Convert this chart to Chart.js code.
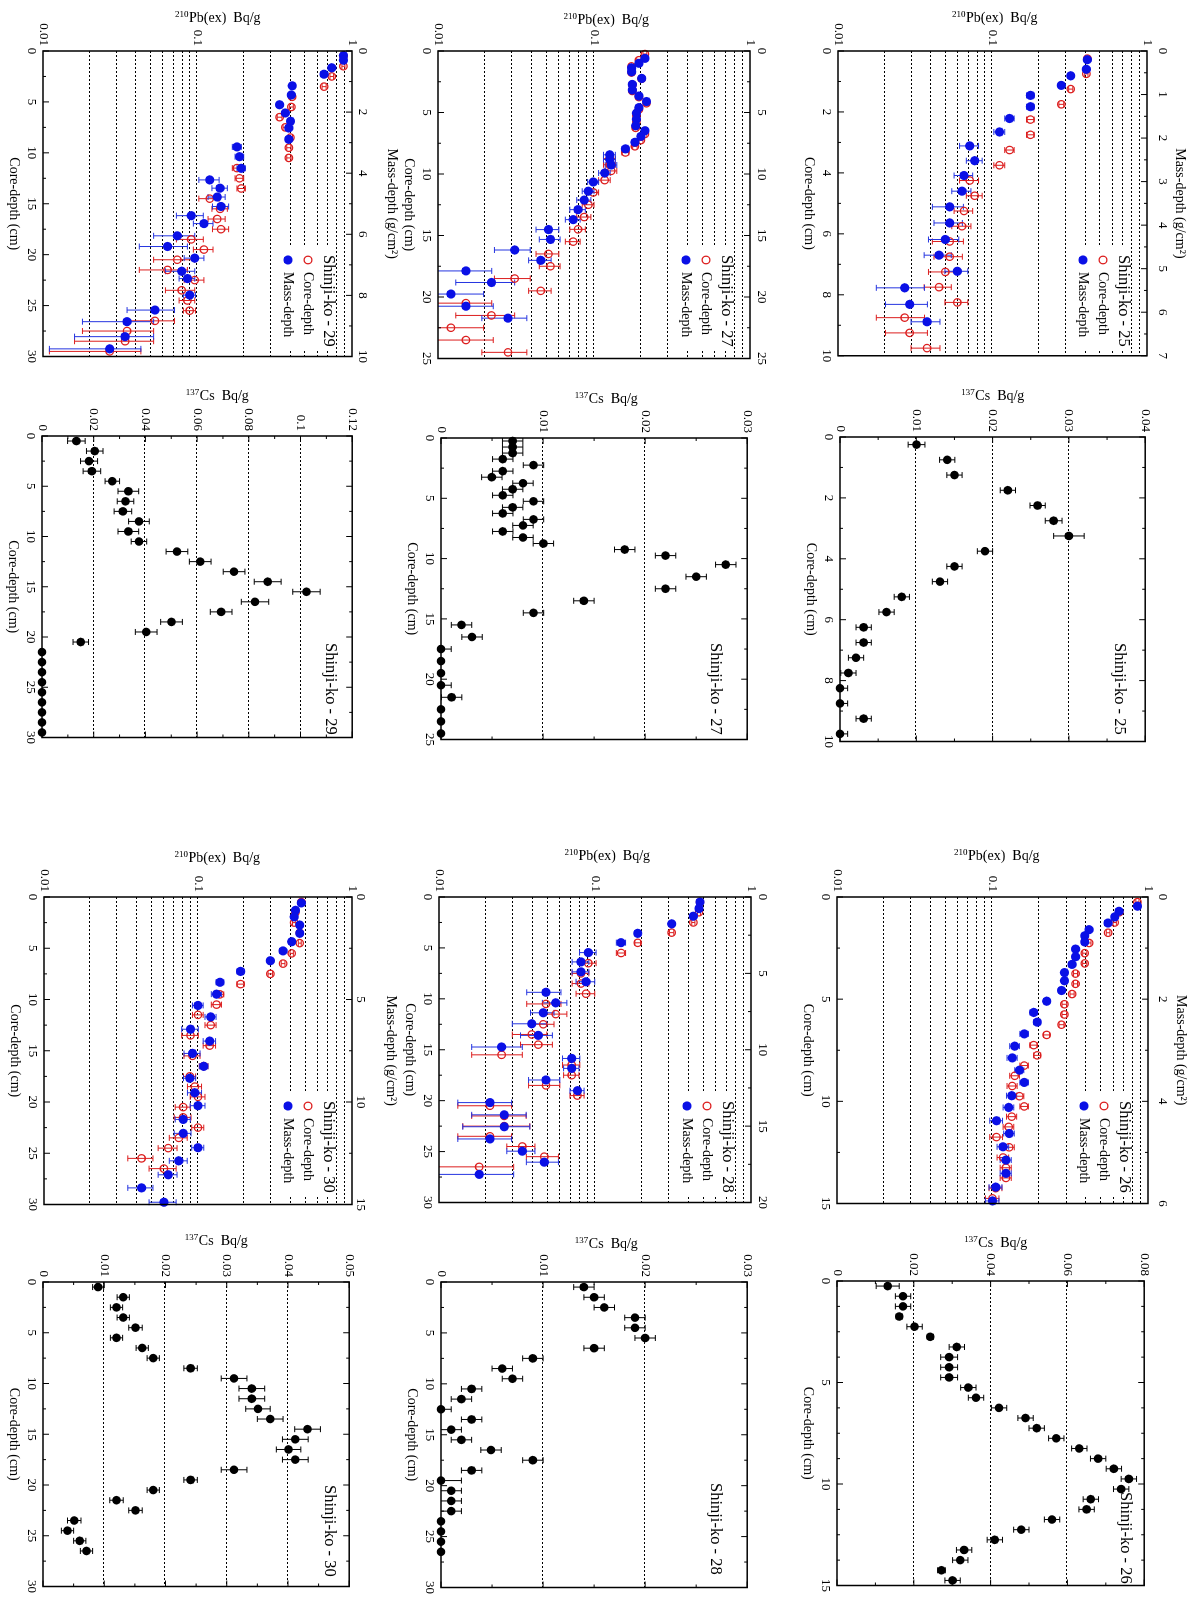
<!DOCTYPE html>
<html>
<head>
<meta charset="utf-8">
<title>Shinji-ko cores: 210Pb(ex) and 137Cs profiles</title>
<script src="https://cdn.jsdelivr.net/npm/chart.js@4.4.1/dist/chart.umd.min.js"></script>
<style>
  html, body { margin: 0; padding: 0; background: #fff; }
  body { width: 1198px; height: 1600px; position: relative; overflow: hidden; }
  .panel { position: absolute; transform-origin: 0 0; }
  .panel canvas { display: block; }
</style>
</head>
<body>
<script>
// ---------------- data ----------------
// 210Pb(ex) log axis
const pbGridTicks = [0.01, 0.02, 0.03, 0.04, 0.05, 0.06, 0.07, 0.08, 0.09, 0.1, 0.2, 0.3, 0.4, 0.5, 0.6, 0.7, 0.8, 0.9, 1];
const pbLabelTicks = [0.01, 0.1, 1];

// Shinji-ko 29
const pb29Core = [0.5, 1.5, 2.5, 3.5, 4.5, 5.5, 6.5, 7.5, 8.5, 9.5, 10.5, 11.5, 12.5, 13.5, 14.5, 15.5, 16.5, 17.5, 18.5, 19.5, 20.5, 21.5, 22.5, 23.5, 24.5, 25.5, 26.5, 27.5, 28.5, 29.5];
const pb29Mass = [0.15, 0.30, 0.55, 0.76, 1.14, 1.44, 1.76, 2.03, 2.30, 2.52, 2.89, 3.14, 3.46, 3.84, 4.22, 4.49, 4.78, 5.09, 5.39, 5.65, 6.05, 6.40, 6.78, 7.21, 7.45, 7.99, 8.48, 8.86, 9.35, 9.75];
const pb29Pb = [0.88, 0.88, 0.74, 0.66, 0.41, 0.405, 0.34, 0.37, 0.40, 0.39, 0.39, 0.18, 0.187, 0.192, 0.12, 0.14, 0.134, 0.142, 0.091, 0.11, 0.074, 0.064, 0.096, 0.079, 0.086, 0.089, 0.053, 0.035, 0.034, 0.027];
const pb29Err = [0.02, 0.02, 0.02, 0.02, 0.012, 0.012, 0.012, 0.012, 0.012, 0.012, 0.012, 0.012, 0.012, 0.012, 0.018, 0.016, 0.017, 0.017, 0.018, 0.016, 0.022, 0.022, 0.014, 0.017, 0.01, 0.008, 0.018, 0.017, 0.018, 0.016];
const cs29Depth = [0.5, 1.5, 2.5, 3.5, 4.5, 5.5, 6.5, 7.5, 8.5, 9.5, 10.5, 11.5, 12.5, 13.5, 14.5, 15.5, 16.5, 17.5, 18.5, 19.5, 20.5, 21.5, 22.5, 23.5, 24.5, 25.5, 26.5, 27.5, 28.5, 29.5];
const cs29Cs = [0.0133, 0.0204, 0.0182, 0.0193, 0.0272, 0.0334, 0.0323, 0.0313, 0.0375, 0.0334, 0.0375, 0.0522, 0.0612, 0.0743, 0.0873, 0.1023, 0.0824, 0.0693, 0.0501, 0.0403, 0.015, 0, 0, 0, 0, 0, 0, 0, 0, 0];
const cs29Err = [0.0034, 0.0032, 0.0033, 0.0034, 0.0028, 0.004, 0.0032, 0.0034, 0.004, 0.004, 0.003, 0.0042, 0.0042, 0.0042, 0.0052, 0.0053, 0.0053, 0.0042, 0.0042, 0.0042, 0.003, 0, 0, 0, 0, 0, 0, 0, 0, 0];

// Shinji-ko 27
const pb27Core = [0.25, 0.75, 1.25, 1.75, 2.25, 2.75, 3.25, 3.75, 4.25, 4.75, 5.25, 5.75, 6.25, 6.75, 7.25, 7.75, 8.25, 8.75, 9.25, 9.75, 10.5, 11.5, 12.5, 13.5, 14.5, 15.5, 16.5, 17.5, 18.5, 19.5, 20.5, 21.5, 22.5, 23.5, 24.5];
const pb27Mass = [0.6, 1.0, 1.37, 1.69, 2.23, 2.72, 3.17, 3.66, 4.11, 4.60, 5.05, 5.54, 6.08, 6.48, 6.94, 7.42, 7.96, 8.44, 8.82, 9.27, 9.92, 10.65, 11.40, 12.12, 12.90, 13.71, 14.52, 15.32, 16.18, 17.02, 17.88, 18.82, 19.76, 20.75, 21.72];
const pb27Pb = [0.212, 0.194, 0.174, 0.174, 0.202, 0.176, 0.176, 0.194, 0.217, 0.194, 0.187, 0.187, 0.185, 0.212, 0.200, 0.183, 0.159, 0.126, 0.126, 0.129, 0.117, 0.099, 0.092, 0.0865, 0.079, 0.0735, 0.051, 0.0526, 0.031, 0.0456, 0.0151, 0.022, 0.0121, 0.0151, 0.0281];
const pb27Err = [0.006, 0.006, 0.006, 0.006, 0.006, 0.006, 0.006, 0.006, 0.006, 0.006, 0.006, 0.006, 0.006, 0.006, 0.006, 0.006, 0.008, 0.011, 0.011, 0.011, 0.01, 0.008, 0.008, 0.009, 0.009, 0.008, 0.0085, 0.008, 0.008, 0.0075, 0.007, 0.009, 0.0075, 0.0075, 0.009];
const cs27Depth = [0.25, 0.75, 1.25, 1.75, 2.25, 2.75, 3.25, 3.75, 4.25, 4.75, 5.25, 5.75, 6.25, 6.75, 7.25, 7.75, 8.25, 8.75, 9.25, 9.75, 10.5, 11.5, 12.5, 13.5, 14.5, 15.5, 16.5, 17.5, 18.5, 19.5, 20.5, 21.5, 22.5, 23.5, 24.5];
const cs27Cs = [0.00702, 0.00702, 0.00702, 0.00605, 0.00906, 0.00605, 0.00498, 0.00803, 0.00702, 0.00605, 0.00906, 0.00702, 0.00605, 0.00906, 0.00803, 0.00605, 0.00803, 0.01003, 0.018, 0.022, 0.0279, 0.025, 0.022, 0.014, 0.00906, 0.00201, 0.00304, 0, 0, 0, 0, 0.00104, 0, 0, 0];
const cs27Err = [0.001, 0.001, 0.001, 0.001, 0.001, 0.001, 0.001, 0.001, 0.001, 0.001, 0.001, 0.001, 0.001, 0.001, 0.001, 0.001, 0.001, 0.001, 0.001, 0.001, 0.001, 0.001, 0.001, 0.001, 0.001, 0.001, 0.001, 0.001, 0, 0, 0.001, 0.001, 0, 0, 0];

// Shinji-ko 25
const pb25Core = [0.25, 0.75, 1.25, 1.75, 2.25, 2.75, 3.25, 3.75, 4.25, 4.75, 5.25, 5.75, 6.25, 6.75, 7.25, 7.75, 8.25, 8.75, 9.25, 9.75];
const pb25Mass = [0.2, 0.42, 0.57, 0.79, 1.02, 1.28, 1.55, 1.86, 2.18, 2.52, 2.86, 3.22, 3.58, 3.95, 4.33, 4.69, 5.06, 5.44, 5.82, 6.22];
const pb25Pb = [0.411, 0.405, 0.321, 0.279, 0.176, 0.176, 0.129, 0.111, 0.0712, 0.0767, 0.0654, 0.0635, 0.0528, 0.0528, 0.0495, 0.0451, 0.0592, 0.027, 0.0291, 0.0377];
const pb25Err = [0.01, 0.01, 0.01, 0.01, 0.01, 0.01, 0.009, 0.009, 0.01, 0.009, 0.009, 0.009, 0.012, 0.011, 0.011, 0.009, 0.01, 0.0093, 0.0088, 0.008];
const cs25Depth = [0.25, 0.75, 1.25, 1.75, 2.25, 2.75, 3.25, 3.75, 4.25, 4.75, 5.25, 5.75, 6.25, 6.75, 7.25, 7.75, 8.25, 8.75, 9.25, 9.75];
const cs25Cs = [0.01003, 0.01405, 0.015, 0.022, 0.0259, 0.028, 0.03, 0.019, 0.015, 0.0131, 0.0081, 0.0061, 0.0031, 0.0031, 0.0021, 0.0011, 0, 0, 0.0031, 0];
const cs25Err = [0.0011, 0.001, 0.001, 0.001, 0.001, 0.0011, 0.002, 0.001, 0.001, 0.001, 0.001, 0.001, 0.001, 0.001, 0.001, 0.001, 0.001, 0.001, 0.001, 0.001];

// Shinji-ko 30
const pb30Core = [0.5, 1.5, 2.5, 3.5, 4.5, 5.5, 6.5, 7.5, 8.5, 9.5, 10.5, 11.5, 12.5, 13.5, 14.5, 15.5, 16.5, 17.5, 18.5, 19.5, 20.5, 21.5, 22.5, 23.5, 24.5, 25.5, 26.5];
const pb30Mass = [0.29, 0.65, 0.97, 1.37, 1.77, 2.18, 2.63, 3.11, 3.63, 4.16, 4.74, 5.29, 5.85, 6.45, 7.03, 7.63, 8.26, 8.84, 9.55, 10.18, 10.85, 11.53, 12.23, 12.87, 13.55, 14.19, 14.89];
const pb30Pb = [0.469, 0.429, 0.421, 0.458, 0.458, 0.406, 0.357, 0.295, 0.189, 0.139, 0.132, 0.100, 0.121, 0.0894, 0.119, 0.0921, 0.109, 0.0885, 0.0954, 0.100, 0.0801, 0.0801, 0.100, 0.0751, 0.0641, 0.043, 0.0601];
const pb30Err = [0.01, 0.01, 0.01, 0.01, 0.01, 0.01, 0.01, 0.01, 0.01, 0.008, 0.01, 0.008, 0.01, 0.011, 0.011, 0.011, 0.007, 0.008, 0.01, 0.011, 0.009, 0.01, 0.009, 0.01, 0.009, 0.008, 0.012];
const cs30Depth = [0.5, 1.5, 2.5, 3.5, 4.5, 5.5, 6.5, 7.5, 8.5, 9.5, 10.5, 11.5, 12.5, 13.5, 14.5, 15.5, 16.5, 17.5, 18.5, 19.5, 20.5, 21.5, 22.5, 23.5, 24.5, 25.5, 26.5];
const cs30Cs = [0.009, 0.0131, 0.012, 0.0131, 0.0151, 0.012, 0.0162, 0.018, 0.0241, 0.0312, 0.0341, 0.0341, 0.0351, 0.0371, 0.0432, 0.0412, 0.0401, 0.0412, 0.0312, 0.0241, 0.018, 0.012, 0.0151, 0.0051, 0.004, 0.006, 0.0071];
const cs30Err = [0.0009, 0.001, 0.001, 0.001, 0.0011, 0.001, 0.001, 0.001, 0.0011, 0.0021, 0.0021, 0.0021, 0.002, 0.0021, 0.0021, 0.0021, 0.002, 0.0021, 0.0021, 0.0011, 0.001, 0.0011, 0.0011, 0.0011, 0.001, 0.001, 0.001];

// Shinji-ko 28
const pb28Core = [0.5, 1.5, 2.5, 3.5, 4.5, 5.5, 6.5, 7.5, 8.5, 9.5, 10.5, 11.5, 12.5, 13.5, 14.5, 15.5, 16.5, 17.5, 18.5, 19.5, 20.5, 21.5, 22.5, 23.5, 24.5, 25.5, 26.5];
const pb28Mass = [0.33, 0.76, 1.26, 1.76, 2.38, 2.99, 3.64, 4.25, 4.90, 5.55, 6.24, 6.93, 7.58, 8.30, 9.06, 9.82, 10.57, 11.22, 11.98, 12.68, 13.46, 14.26, 15.04, 15.84, 16.64, 17.36, 18.16];
const pb28Pb = [0.471, 0.464, 0.427, 0.310, 0.188, 0.147, 0.0906, 0.0813, 0.0813, 0.0876, 0.0485, 0.056, 0.0466, 0.0393, 0.0433, 0.0252, 0.0709, 0.0709, 0.0485, 0.0771, 0.0212, 0.0262, 0.0262, 0.0212, 0.0342, 0.0473, 0.0181];
const pb28Err = [0.01, 0.01, 0.01, 0.01, 0.008, 0.01, 0.011, 0.01, 0.01, 0.012, 0.012, 0.01, 0.008, 0.0098, 0.01, 0.009, 0.009, 0.008, 0.011, 0.008, 0.008, 0.01, 0.012, 0.008, 0.007, 0.011, 0.012];
const cs28Depth = [0.5, 1.5, 2.5, 3.5, 4.5, 5.5, 6.5, 7.5, 8.5, 9.5, 10.5, 11.5, 12.5, 13.5, 14.5, 15.5, 16.5, 17.5, 18.5, 19.5, 20.5, 21.5, 22.5, 23.5, 24.5, 25.5, 26.5];
const cs28Cs = [0.014, 0.015, 0.016, 0.019, 0.019, 0.02, 0.015, 0.009, 0.006, 0.007, 0.003, 0.002, 0, 0.003, 0.001, 0.002, 0.0049, 0.009, 0.003, 0, 0.001, 0.001, 0.001, 0, 0, 0, 0];
const cs28Err = [0.001, 0.001, 0.001, 0.001, 0.001, 0.001, 0.001, 0.001, 0.001, 0.001, 0.001, 0.001, 0.001, 0.001, 0.001, 0.001, 0.001, 0.001, 0.001, 0.002, 0.001, 0.001, 0.001, 0, 0, 0, 0];

// Shinji-ko 26
const pb26Core = [0.25, 0.75, 1.25, 1.75, 2.25, 2.75, 3.25, 3.75, 4.25, 4.75, 5.25, 5.75, 6.25, 6.75, 7.25, 7.75, 8.25, 8.75, 9.25, 9.75, 10.25, 10.75, 11.25, 11.75, 12.25, 12.75, 13.25, 13.75, 14.25, 14.75];
const pb26Mass = [0.18, 0.28, 0.39, 0.51, 0.64, 0.76, 0.88, 1.02, 1.17, 1.32, 1.48, 1.64, 1.83, 2.04, 2.26, 2.45, 2.68, 2.92, 3.15, 3.39, 3.63, 3.89, 4.12, 4.38, 4.63, 4.89, 5.15, 5.41, 5.68, 5.95];
const pb26Pb = [0.855, 0.652, 0.611, 0.554, 0.418, 0.392, 0.392, 0.342, 0.342, 0.325, 0.290, 0.290, 0.278, 0.223, 0.184, 0.194, 0.160, 0.139, 0.134, 0.149, 0.160, 0.133, 0.127, 0.106, 0.128, 0.117, 0.122, 0.122, 0.105, 0.100];
const pb26Err = [0.02, 0.015, 0.015, 0.015, 0.012, 0.012, 0.012, 0.01, 0.01, 0.01, 0.01, 0.01, 0.01, 0.01, 0.01, 0.01, 0.01, 0.01, 0.01, 0.01, 0.01, 0.01, 0.01, 0.01, 0.01, 0.01, 0.01, 0.01, 0.01, 0.01];
const cs26Depth = [0.25, 0.75, 1.25, 1.75, 2.25, 2.75, 3.25, 3.75, 4.25, 4.75, 5.25, 5.75, 6.25, 6.75, 7.25, 7.75, 8.25, 8.75, 9.25, 9.75, 10.25, 10.75, 11.25, 11.75, 12.25, 12.75, 13.25, 13.75, 14.25, 14.75];
const cs26Cs = [0.0132, 0.0172, 0.0172, 0.0162, 0.0202, 0.0243, 0.0312, 0.0292, 0.0292, 0.0292, 0.0342, 0.0362, 0.0422, 0.0491, 0.052, 0.0571, 0.0631, 0.068, 0.0721, 0.076, 0.074, 0.0661, 0.065, 0.056, 0.048, 0.0411, 0.0331, 0.0321, 0.0272, 0.0301];
const cs26Err = [0.003, 0.002, 0.002, 0.0008, 0.002, 0.0008, 0.002, 0.0022, 0.0022, 0.0022, 0.002, 0.002, 0.002, 0.002, 0.002, 0.002, 0.002, 0.002, 0.002, 0.002, 0.002, 0.002, 0.002, 0.002, 0.002, 0.002, 0.002, 0.002, 0.001, 0.002];

// ---------------- layout ----------------
// Each panel is drawn in its own (landscape) orientation and turned 90deg clockwise,
// like the scanned page. box = plot frame on the page: [left, right, top, bottom].
const LM = 50, BM = 43, RM = 8, TM_PB = 50, TM_CS = 10;
const RED = '#dc1e1e', BLUE = '#0a10e6', BLUE_BAR = '#2535e0';
const SERIF = "'Liberation Serif', 'Times New Roman', serif";

Chart.defaults.font.family = SERIF;
Chart.defaults.color = '#000';

const panels = [
  { kind: 'pb', label: 'Shinji-ko - 29', box: [43, 352, 51, 359], core: pb29Core, mass: pb29Mass, val: pb29Pb, err: pb29Err,
    depthMax: 30, depthStep: 5, depthMinor: 2.5, massMax: 10, massStep: 2, massMinor: 1, massTitle: true, massPad: 3, massTitlePad: 2, yTitlePad: 8, titleShift: 20 },
  { kind: 'pb', label: 'Shinji-ko - 27', box: [438, 750, 51, 361], core: pb27Core, mass: pb27Mass, val: pb27Pb, err: pb27Err,
    depthMax: 25, depthStep: 5, depthMinor: 2.5, massMax: 25, massStep: 5, massMinor: 2.5, massTitle: false, massPad: 4, massTitlePad: 2, yTitlePad: 10, titleShift: 12 },
  { kind: 'pb', label: 'Shinji-ko - 25', box: [838, 1147, 51, 359], core: pb25Core, mass: pb25Mass, val: pb25Pb, err: pb25Err,
    depthMax: 10, depthStep: 2, depthMinor: 1, massMax: 7, massStep: 1, massMinor: 0.5, massTitle: true, massPad: 8, massTitlePad: 9, yTitlePad: 8, titleShift: 2 },
  { kind: 'cs', label: 'Shinji-ko - 29', box: [42, 355, 436, 740], depth: cs29Depth, val: cs29Cs, err: cs29Err,
    depthMax: 30, depthStep: 5, depthMinor: 2.5, csMax: 0.12, csStep: 0.02, csMinor: 0.01, yTitlePad: 1, titleShift: 20, labelX: 207, labelY: 22 },
  { kind: 'cs', label: 'Shinji-ko - 27', box: [441, 750, 438, 742], depth: cs27Depth, val: cs27Cs, err: cs27Err,
    depthMax: 25, depthStep: 5, depthMinor: 2.5, csMax: 0.03, csStep: 0.01, csMinor: 0.005, yTitlePad: 2, titleShift: 12, labelX: 205, labelY: 32 },
  { kind: 'cs', label: 'Shinji-ko - 25', box: [840, 1148, 437, 744], depth: cs25Depth, val: cs25Cs, err: cs25Err,
    depthMax: 10, depthStep: 2, depthMinor: 1, csMax: 0.04, csStep: 0.01, csMinor: 0.005, yTitlePad: 0, titleShift: 0, labelX: 206, labelY: 26 },
  { kind: 'pb', label: 'Shinji-ko - 30', box: [44, 352, 897, 1207], core: pb30Core, mass: pb30Mass, val: pb30Pb, err: pb30Err,
    depthMax: 30, depthStep: 5, depthMinor: 2.5, massMax: 15, massStep: 5, massMinor: 2.5, massTitle: true, massPad: 1, massTitlePad: 3, yTitlePad: 2, titleShift: 19 },
  { kind: 'pb', label: 'Shinji-ko - 28', box: [439, 751, 897, 1205], core: pb28Core, mass: pb28Mass, val: pb28Pb, err: pb28Err,
    depthMax: 30, depthStep: 5, depthMinor: 2.5, massMax: 20, massStep: 5, massMinor: 2.5, massTitle: false, massPad: 4, massTitlePad: 2, yTitlePad: 0, titleShift: 12 },
  { kind: 'pb', label: 'Shinji-ko - 26', box: [837, 1148, 897, 1206], core: pb26Core, mass: pb26Mass, val: pb26Pb, err: pb26Err,
    depthMax: 15, depthStep: 5, depthMinor: 2.5, massMax: 6, massStep: 2, massMinor: 1, massTitle: true, massPad: 7, massTitlePad: 9, yTitlePad: 0, titleShift: 4 },
  { kind: 'cs', label: 'Shinji-ko - 30', box: [43, 352, 1282, 1589], depth: cs30Depth, val: cs30Cs, err: cs30Err,
    depthMax: 30, depthStep: 5, depthMinor: 2.5, csMax: 0.05, csStep: 0.01, csMinor: 0.005, yTitlePad: 0, titleShift: 20, labelX: 203, labelY: 20 },
  { kind: 'cs', label: 'Shinji-ko - 28', box: [441, 750, 1282, 1590], depth: cs28Depth, val: cs28Cs, err: cs28Err,
    depthMax: 30, depthStep: 5, depthMinor: 2.5, csMax: 0.03, csStep: 0.01, csMinor: 0.005, yTitlePad: 3, titleShift: 12, labelX: 201, labelY: 32 },
  { kind: 'cs', label: 'Shinji-ko - 26', box: [837, 1147, 1281, 1588], depth: cs26Depth, val: cs26Cs, err: cs26Err,
    depthMax: 15, depthStep: 5, depthMinor: 1.25, csMax: 0.08, csStep: 0.02, csMinor: 0.01, yTitlePad: 3, titleShift: 5, labelX: 211, labelY: 19 }
];

const fmt = v => String(+Number(v).toFixed(4));
const steps = (max, step) => Array.from({ length: Math.round(max / step) + 1 }, (_, k) => +(k * step).toFixed(6));

// grid, key, error bars, value-axis title and the frame are drawn here with the chart's own scales
function panelPlugin(p) {
  const isPb = p.kind === 'pb';

  function errorBars(ctx, xs, ys, xsVals, color) {
    ctx.strokeStyle = color;
    ctx.lineWidth = 1;
    ctx.beginPath();
    xsVals.forEach((d, i) => {
      const e = p.err[i];
      if (!e) return;
      const v = p.val[i];
      const lo = Math.max(v - e, ys.min), hi = Math.min(v + e, ys.max);
      const px = xs.getPixelForValue(d);
      const pLo = ys.getPixelForValue(lo), pHi = ys.getPixelForValue(hi);
      ctx.moveTo(px, pLo); ctx.lineTo(px, pHi);
      if (lo > ys.min) { ctx.moveTo(px - 3, pLo); ctx.lineTo(px + 3, pLo); }
      if (hi < ys.max) { ctx.moveTo(px - 3, pHi); ctx.lineTo(px + 3, pHi); }
    });
    ctx.stroke();
  }

  // "210Pb(ex)  Bq/g" with a real superscript, rotated like a y-axis title
  function valueTitle(ctx, a) {
    const sup = isPb ? '210' : '137';
    const main = isPb ? 'Pb(ex)  Bq/g' : 'Cs  Bq/g';
    ctx.save();
    ctx.translate(p.yTitlePad + 8.4, (a.top + a.bottom) / 2 - p.titleShift);
    ctx.rotate(-Math.PI / 2);
    ctx.fillStyle = '#000';
    ctx.textAlign = 'left';
    ctx.textBaseline = 'alphabetic';
    ctx.font = '9px ' + SERIF;
    const w1 = ctx.measureText(sup).width;
    ctx.font = '14px ' + SERIF;
    const w2 = ctx.measureText(main).width;
    const x = -(w1 + w2) / 2;
    ctx.font = '9px ' + SERIF;
    ctx.fillText(sup, x, -0.5);
    ctx.font = '14px ' + SERIF;
    ctx.fillText(main, x + w1 + 0.5, 5);
    ctx.restore();
  }

  return {
    id: 'panel',
    beforeDatasetsDraw(chart) {
      const { ctx, chartArea: a, scales } = chart;
      const ys = scales.y;
      ctx.save();

      valueTitle(ctx, a);

      // dotted grid lines
      const gridVals = isPb ? pbGridTicks.slice(1, -1) : steps(p.csMax, p.csStep).slice(1, -1);
      ctx.strokeStyle = '#000';
      ctx.lineWidth = 1;
      ctx.setLineDash([2, 2]);
      ctx.beginPath();
      gridVals.forEach(v => {
        const y = Math.round(ys.getPixelForValue(v)) + 0.5;
        ctx.moveTo(a.left, y); ctx.lineTo(a.right, y);
      });
      ctx.stroke();
      ctx.setLineDash([]);

      ctx.textAlign = 'left';
      ctx.textBaseline = 'middle';
      ctx.fillStyle = '#000';
      if (isPb) {
        // key box
        ctx.fillStyle = '#fff';
        ctx.fillRect(a.left + 196, a.top + 16, 102, 57);
        ctx.fillStyle = '#000';
        ctx.font = '16.5px ' + SERIF;
        ctx.fillText(p.label, a.left + 204, a.top + 24);
        ctx.font = '14px ' + SERIF;
        ctx.fillText('Core-depth', a.left + 221, a.top + 44);
        ctx.fillText('Mass-depth', a.left + 221, a.top + 64);
        ctx.strokeStyle = RED;
        ctx.lineWidth = 1.3;
        ctx.beginPath(); ctx.arc(a.left + 209, a.top + 44, 3.8, 0, Math.PI * 2); ctx.stroke();
        ctx.fillStyle = BLUE;
        ctx.beginPath(); ctx.arc(a.left + 209, a.top + 64, 4.6, 0, Math.PI * 2); ctx.fill();

        errorBars(ctx, scales.x, ys, p.core, RED);
        errorBars(ctx, scales.x2, ys, p.mass, BLUE_BAR);
      } else {
        ctx.font = '16.5px ' + SERIF;
        ctx.fillText(p.label, a.left + p.labelX, a.top + p.labelY);
        errorBars(ctx, scales.x, ys, p.depth, '#000');
      }
      ctx.restore();
    },
    afterDatasetsDraw(chart) {
      const { ctx, chartArea: a, scales } = chart;
      ctx.save();
      ctx.strokeStyle = '#000';
      ctx.lineWidth = 1;
      ctx.beginPath();
      const hTicks = (scale, max, step, minor, y0, dir) => {
        steps(max, minor).forEach(v => {
          const major = Math.abs(v / step - Math.round(v / step)) < 1e-6;
          const px = scale.getPixelForValue(v);
          ctx.moveTo(px, y0); ctx.lineTo(px, y0 + dir * (major ? 6 : 3));
        });
      };
      hTicks(scales.x, p.depthMax, p.depthStep, p.depthMinor, a.bottom, -1);
      if (isPb) {
        hTicks(scales.x2, p.massMax, p.massStep, p.massMinor, a.top, 1);
      } else {
        hTicks(scales.x, p.depthMax, p.depthStep, p.depthMinor, a.top, 1);
        steps(p.csMax, p.csMinor).forEach(v => {
          const major = Math.abs(v / p.csStep - Math.round(v / p.csStep)) < 1e-6;
          const py = scales.y.getPixelForValue(v);
          const len = major ? 6 : 3;
          ctx.moveTo(a.left, py); ctx.lineTo(a.left + len, py);
          ctx.moveTo(a.right, py); ctx.lineTo(a.right - len, py);
        });
      }
      ctx.stroke();
      ctx.lineWidth = 1.5;
      ctx.strokeRect(a.left, a.top, a.right - a.left, a.bottom - a.top);
      ctx.restore();
    }
  };
}

function buildPanel(p) {
  const isPb = p.kind === 'pb';
  const TM = isPb ? TM_PB : TM_CS;
  const [x0, x1, y0, y1] = p.box;
  const W = (y1 - y0) + LM + RM;   // unrotated width  = height on the page
  const H = (x1 - x0) + BM + TM;   // unrotated height = width on the page

  const wrap = document.createElement('div');
  wrap.className = 'panel';
  wrap.style.left = (x0 - BM) + 'px';
  wrap.style.top = (y0 - LM) + 'px';
  wrap.style.width = W + 'px';
  wrap.style.height = H + 'px';
  wrap.style.transform = 'translate(' + H + 'px,0) rotate(90deg)';
  const canvas = document.createElement('canvas');
  canvas.width = W;
  canvas.height = H;
  canvas.style.width = W + 'px';
  canvas.style.height = H + 'px';
  wrap.appendChild(canvas);
  document.body.appendChild(wrap);

  const tickFont = { size: 13 };
  const titleFont = { size: 14 };
  const noGrid = { display: false, drawTicks: false, tickLength: 0 };

  const scales = {
    x: {
      type: 'linear', position: 'bottom', min: 0, max: p.depthMax,
      afterFit: s => { s.height = BM; },
      ticks: { stepSize: p.depthStep, autoSkip: false, maxRotation: 0, minRotation: 0, padding: 4, font: tickFont, callback: fmt },
      grid: noGrid, border: { display: false },
      title: { display: true, text: 'Core-depth (cm)', font: titleFont, padding: { top: 0, bottom: 5 } }
    }
  };

  let datasets;
  if (isPb) {
    scales.x2 = {
      type: 'linear', position: 'top', min: 0, max: p.massMax,
      afterFit: s => { s.height = TM; },
      ticks: { stepSize: p.massStep, autoSkip: false, maxRotation: 0, minRotation: 0, padding: p.massPad, font: tickFont, callback: fmt },
      grid: noGrid, border: { display: false },
      title: { display: p.massTitle, text: 'Mass-depth (g/cm²)', font: titleFont, padding: { top: p.massTitlePad, bottom: 0 } }
    };
    scales.y = {
      type: 'logarithmic', position: 'left', min: 0.01, max: 1,
      afterFit: s => { s.width = LM; },
      afterBuildTicks: s => { s.ticks = pbGridTicks.map(v => ({ value: v })); },
      ticks: { autoSkip: false, padding: 5, font: tickFont, callback: v => (pbLabelTicks.includes(v) ? fmt(v) : '') },
      grid: noGrid, border: { display: false },
      title: { display: false }
    };
    datasets = [
      {
        label: 'Mass-depth', xAxisID: 'x2', yAxisID: 'y', clip: false,
        data: p.mass.map((m, i) => ({ x: m, y: p.val[i] })),
        pointRadius: 4.6, pointBackgroundColor: BLUE, pointBorderColor: BLUE, pointBorderWidth: 0
      },
      {
        label: 'Core-depth', xAxisID: 'x', yAxisID: 'y', clip: false,
        data: p.core.map((d, i) => ({ x: d, y: p.val[i] })),
        pointRadius: 3.7, pointBackgroundColor: 'rgba(0,0,0,0)', pointBorderColor: RED, pointBorderWidth: 1.3
      }
    ];
  } else {
    scales.y = {
      type: 'linear', position: 'left', min: 0, max: p.csMax,
      afterFit: s => { s.width = LM; },
      ticks: { stepSize: p.csStep, autoSkip: false, padding: 5, font: tickFont, callback: fmt },
      grid: noGrid, border: { display: false },
      title: { display: false }
    };
    datasets = [
      {
        label: p.label, xAxisID: 'x', yAxisID: 'y', clip: false,
        data: p.depth.map((d, i) => ({ x: d, y: p.val[i] })),
        pointRadius: 4.3, pointBackgroundColor: '#000', pointBorderColor: '#000', pointBorderWidth: 0
      }
    ];
  }

  new Chart(canvas, {
    type: 'scatter',
    data: { datasets },
    options: {
      responsive: false,
      animation: false,
      devicePixelRatio: 1,
      events: [],
      layout: { autoPadding: false, padding: { top: isPb ? 0 : TM, right: RM, bottom: 0, left: 0 } },
      plugins: { legend: { display: false }, tooltip: { enabled: false } },
      scales
    },
    plugins: [panelPlugin(p)]
  });
}

panels.forEach(buildPanel);
</script>
</body>
</html>
